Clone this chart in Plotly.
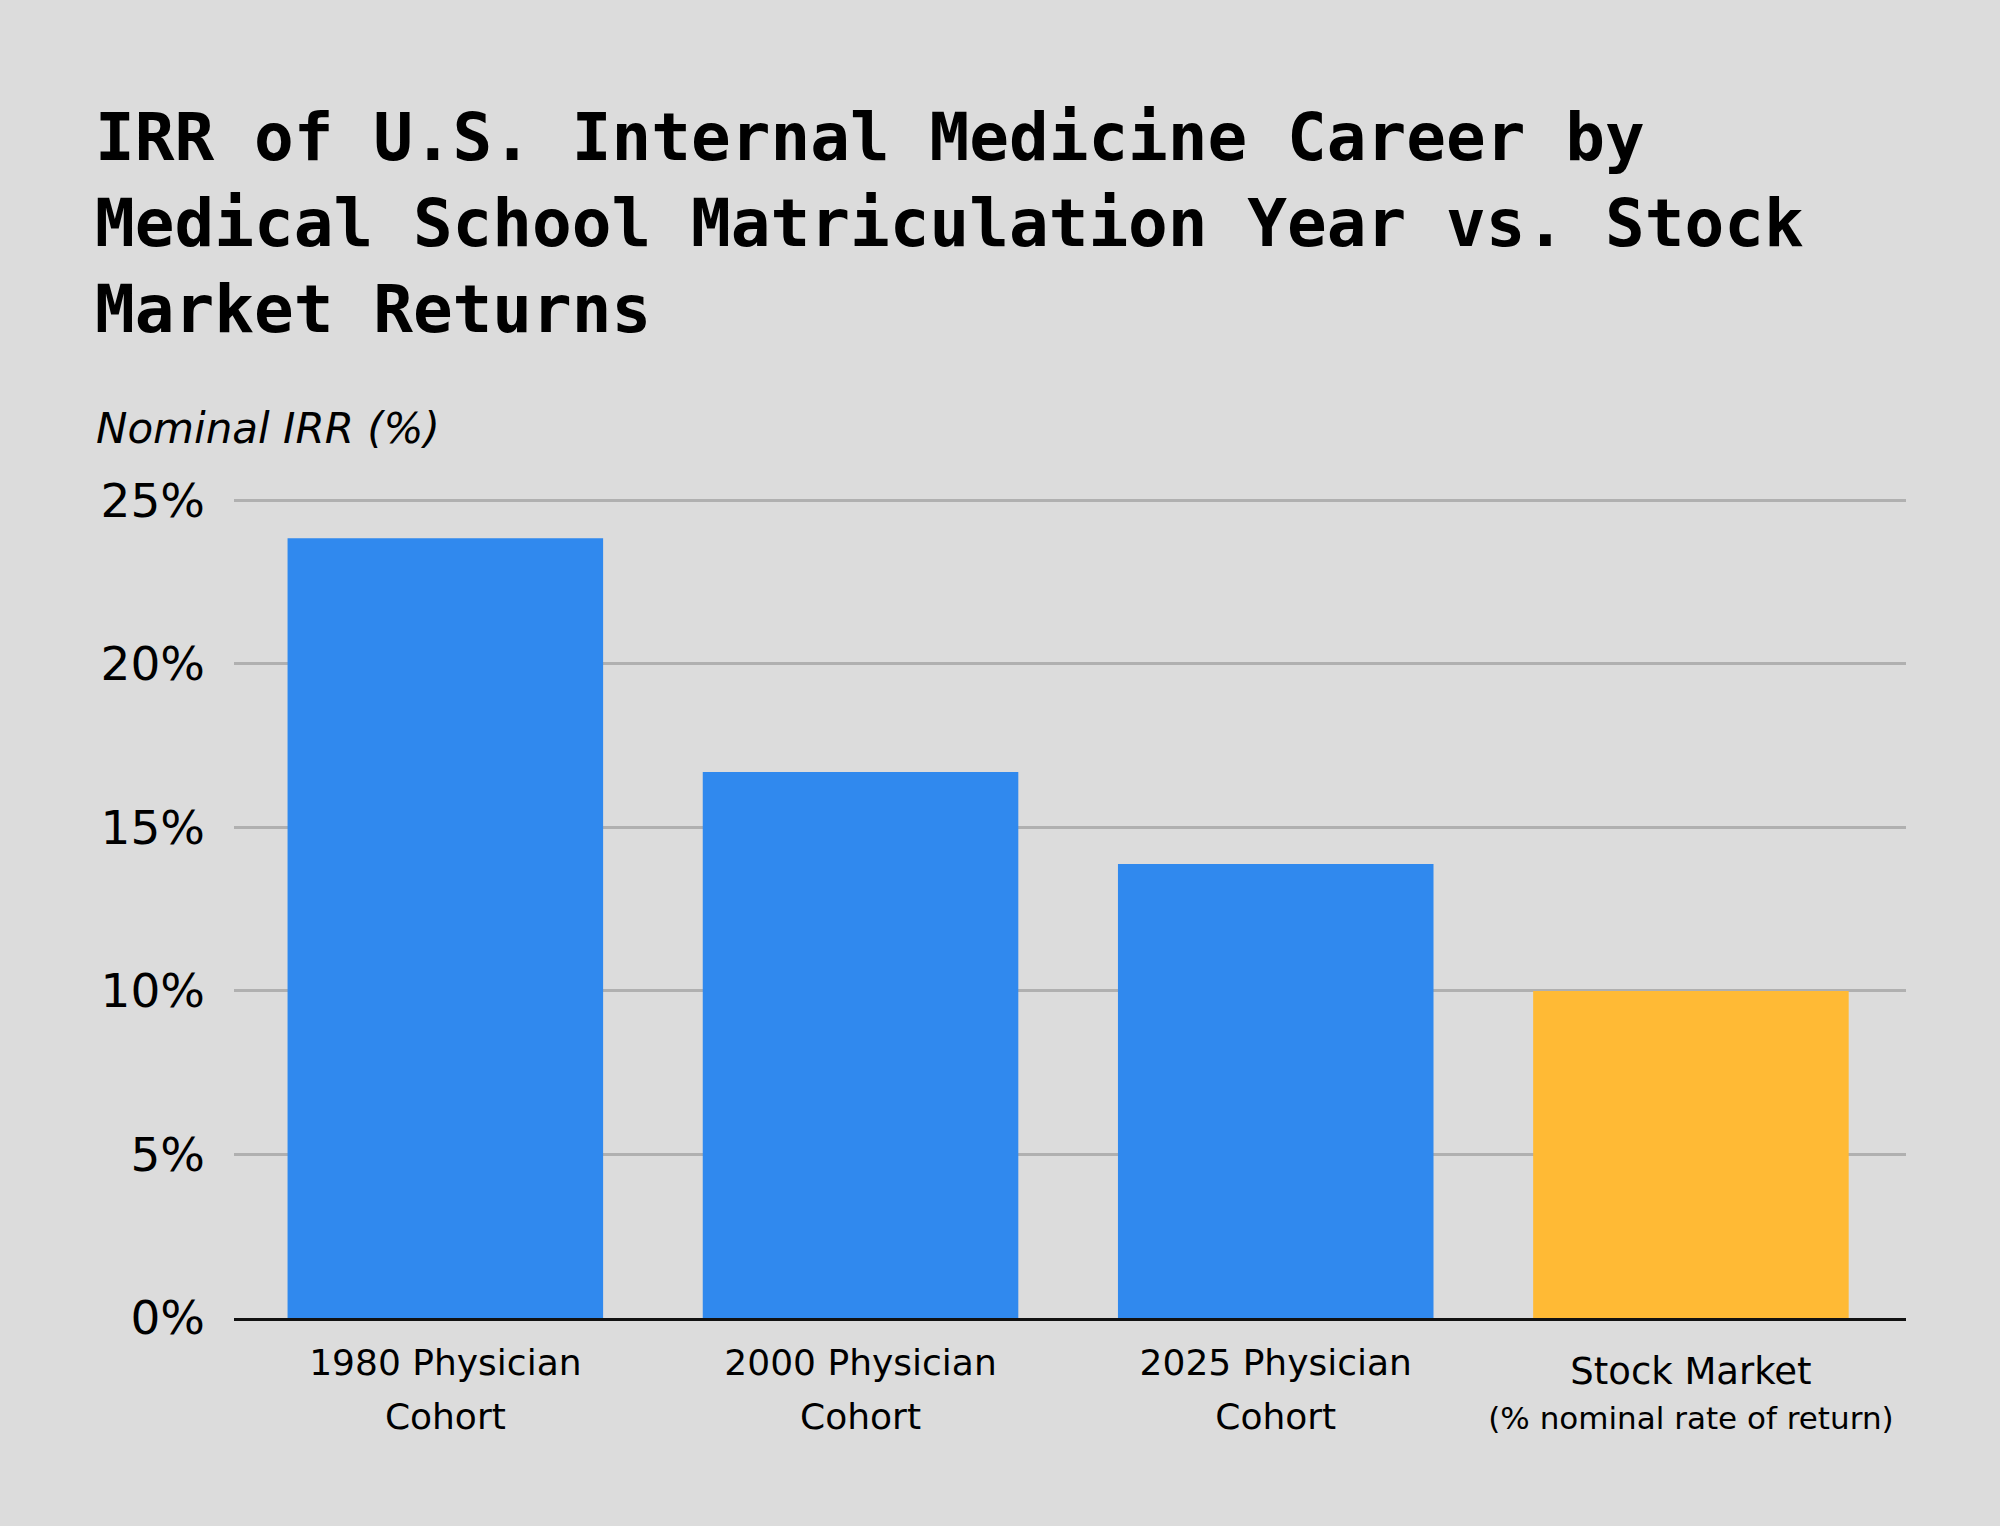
import plotly.graph_objects as go

categories = ["1980 Physician Cohort", "2000 Physician Cohort", "2025 Physician Cohort", "Stock Market"]
tick_labels = [
    "<span style='font-size:36px'>1980 Physician</span><br><span style='font-size:36px'>Cohort</span>",
    "<span style='font-size:36px'>2000 Physician</span><br><span style='font-size:36px'>Cohort</span>",
    "<span style='font-size:36px'>2025 Physician</span><br><span style='font-size:36px'>Cohort</span>",
    "<span style='font-size:37px;baseline-shift:-9px'>Stock Market</span><br><span style='font-size:31px'>(% nominal rate of return)</span>",
]
irr_values = [23.84, 16.69, 13.88, 10.0]
bar_colors = ["#3089EE", "#3089EE", "#3089EE", "#FFBA35"]

y_tick_values = [0, 5, 10, 15, 20, 25]
y_tick_labels = ["0%", "5%", "10%", "15%", "20%", "25%"]

title_text = ("IRR of U.S. Internal Medicine Career by<br>"
              "Medical School Matriculation Year vs. Stock<br>"
              "Market Returns")
y_title = "Nominal IRR (%)"

W, H = 2000, 1526
L, R, T, B = 234, 94, 497, 208
plot_h = H - T - B

fig = go.Figure(
    go.Bar(
        x=categories,
        y=irr_values,
        marker=dict(color=bar_colors, line=dict(width=0)),
        hoverinfo="skip",
    )
)

fig.update_layout(
    width=W,
    height=H,
    margin=dict(l=L, r=R, t=T, b=B, pad=0),
    paper_bgcolor="#DCDCDC",
    plot_bgcolor="#DCDCDC",
    bargap=0.24,
    showlegend=False,
    title=dict(
        text=title_text,
        font=dict(family="DejaVu Sans Mono", size=66, color="#000000", weight="bold"),
        xref="container", yref="container",
        x=95 / W, xanchor="left",
        y=1 - 160 / H, yanchor="top",
    ),
    font=dict(family="DejaVu Sans", color="#000000"),
)

fig.update_yaxes(
    range=[0, 25.1],
    tickmode="array",
    tickvals=y_tick_values,
    ticktext=y_tick_labels,
    tickfont=dict(family="DejaVu Sans", size=47, color="#000000"),
    ticks="",
    ticklabelstandoff=28,
    showgrid=True,
    gridcolor="#B0B0B0",
    gridwidth=3,
    zeroline=False,
    showline=False,
    fixedrange=True,
)

fig.update_xaxes(
    tickmode="array",
    tickvals=categories,
    ticktext=tick_labels,
    range=[-0.509, 3.518],
    tickfont=dict(family="DejaVu Sans", size=41.5, color="#000000"),
    ticks="",
    ticklabelstandoff=4,
    showline=True,
    linecolor="#111111",
    linewidth=3,
    showgrid=False,
    zeroline=False,
    fixedrange=True,
)

fig.add_annotation(
    text=y_title,
    xref="paper", yref="paper",
    x=(94 - L) / (W - L - R), xanchor="left",
    y=(H - B - 455) / plot_h, yanchor="bottom",
    showarrow=False,
    font=dict(family="DejaVu Sans", size=42, color="#000000", style="italic"),
)

fig.write_html(
    "out.html",
    config={"displayModeBar": False},
    post_script="document.body.style.margin='0';",
)
